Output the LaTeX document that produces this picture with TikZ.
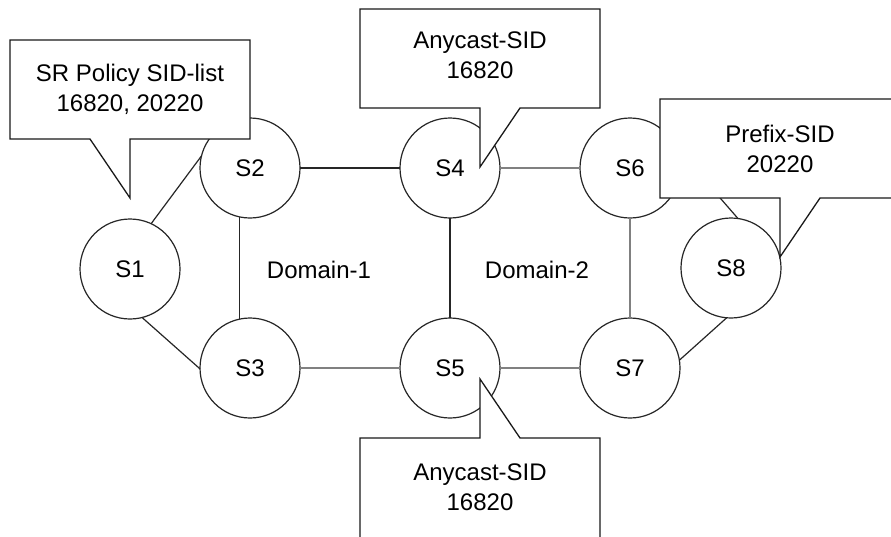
\documentclass[tikz,border=0pt]{standalone}
\usepackage{fontspec}
\setmainfont{Liberation Sans}
\begin{document}
\begin{tikzpicture}[x=1pt,y=-1pt,
  sw/.style={circle,draw=black!85,line width=1.2pt,fill=white,minimum size=100pt,inner sep=0pt,outer sep=0pt,font=\fontsize{24}{30}\selectfont},
  link/.style={draw=black!85,line width=1.2pt},
  glink/.style={draw=black!50,line width=2.2pt},
  callout/.style={draw=black!90,line width=1.3pt,fill=white,line join=miter},
  lbl/.style={align=center,inner sep=0pt,font=\fontsize{24}{30}\selectfont},
  dom/.style={inner sep=0pt,font=\fontsize{24}{30}\selectfont}]
\useasboundingbox (0,0) rectangle (891,536);
\clip (0,0) rectangle (891,536);
\fill[white] (0,0) rectangle (891,536);
% switches
\node[sw] (S1) at (130,269) {S1};
\node[sw] (S2) at (250,168) {S2};
\node[sw] (S3) at (250,368) {S3};
\node[sw] (S4) at (450,168) {S4};
\node[sw] (S5) at (450,368) {S5};
\node[sw] (S6) at (630,168) {S6};
\node[sw] (S7) at (630,368) {S7};
\node[sw] (S8) at (731,268) {S8};
% links
\draw[link] (S1.65) -- (S2.166);
\draw[link] (S1.284) -- (S3.181);
\draw[link] (S2.258) -- (S3.102);
\draw[link] (S2.east) -- (S4.west);
\draw[glink] (S3.east) -- (S5.west);
\draw[link] (S4.south) -- (S5.north);
\draw[glink] (S4.east) -- (S6.west);
\draw[glink] (S5.east) -- (S7.west);
\draw[glink] (S6.south) -- (S7.north);
\draw[link] (S6.26) -- (S8.82);
\draw[link] (S7.9) -- (S8.265);
% domain labels
\node[dom] (d1) at (319,270) {Domain-1};
\node[dom] (d2) at (537,270) {Domain-2};
% callouts
\draw[callout] (10,40) -- (250,40) -- (250,139) -- (130,139) -- (130,198) -- (90,139) -- (10,139) -- cycle;
\node[lbl] (c1) at (130,89) {SR Policy SID-list\\16820, 20220};
\draw[callout] (360,9) -- (600,9) -- (600,108) -- (520,108) -- (480,167) -- (480,108) -- (360,108) -- cycle;
\node[lbl] (c2) at (480,55) {Anycast-SID\\16820};
\draw[callout] (660,99) -- (900,99) -- (900,198) -- (820,198) -- (780,257) -- (780,198) -- (660,198) -- cycle;
\node[lbl] (c3) at (780,149) {Prefix-SID\\20220};
\draw[callout] (360,438) -- (480,438) -- (480,379) -- (520,438) -- (600,438) -- (600,545) -- (360,545) -- cycle;
\node[lbl] (c4) at (480,487) {Anycast-SID\\16820};
\end{tikzpicture}
\end{document}
